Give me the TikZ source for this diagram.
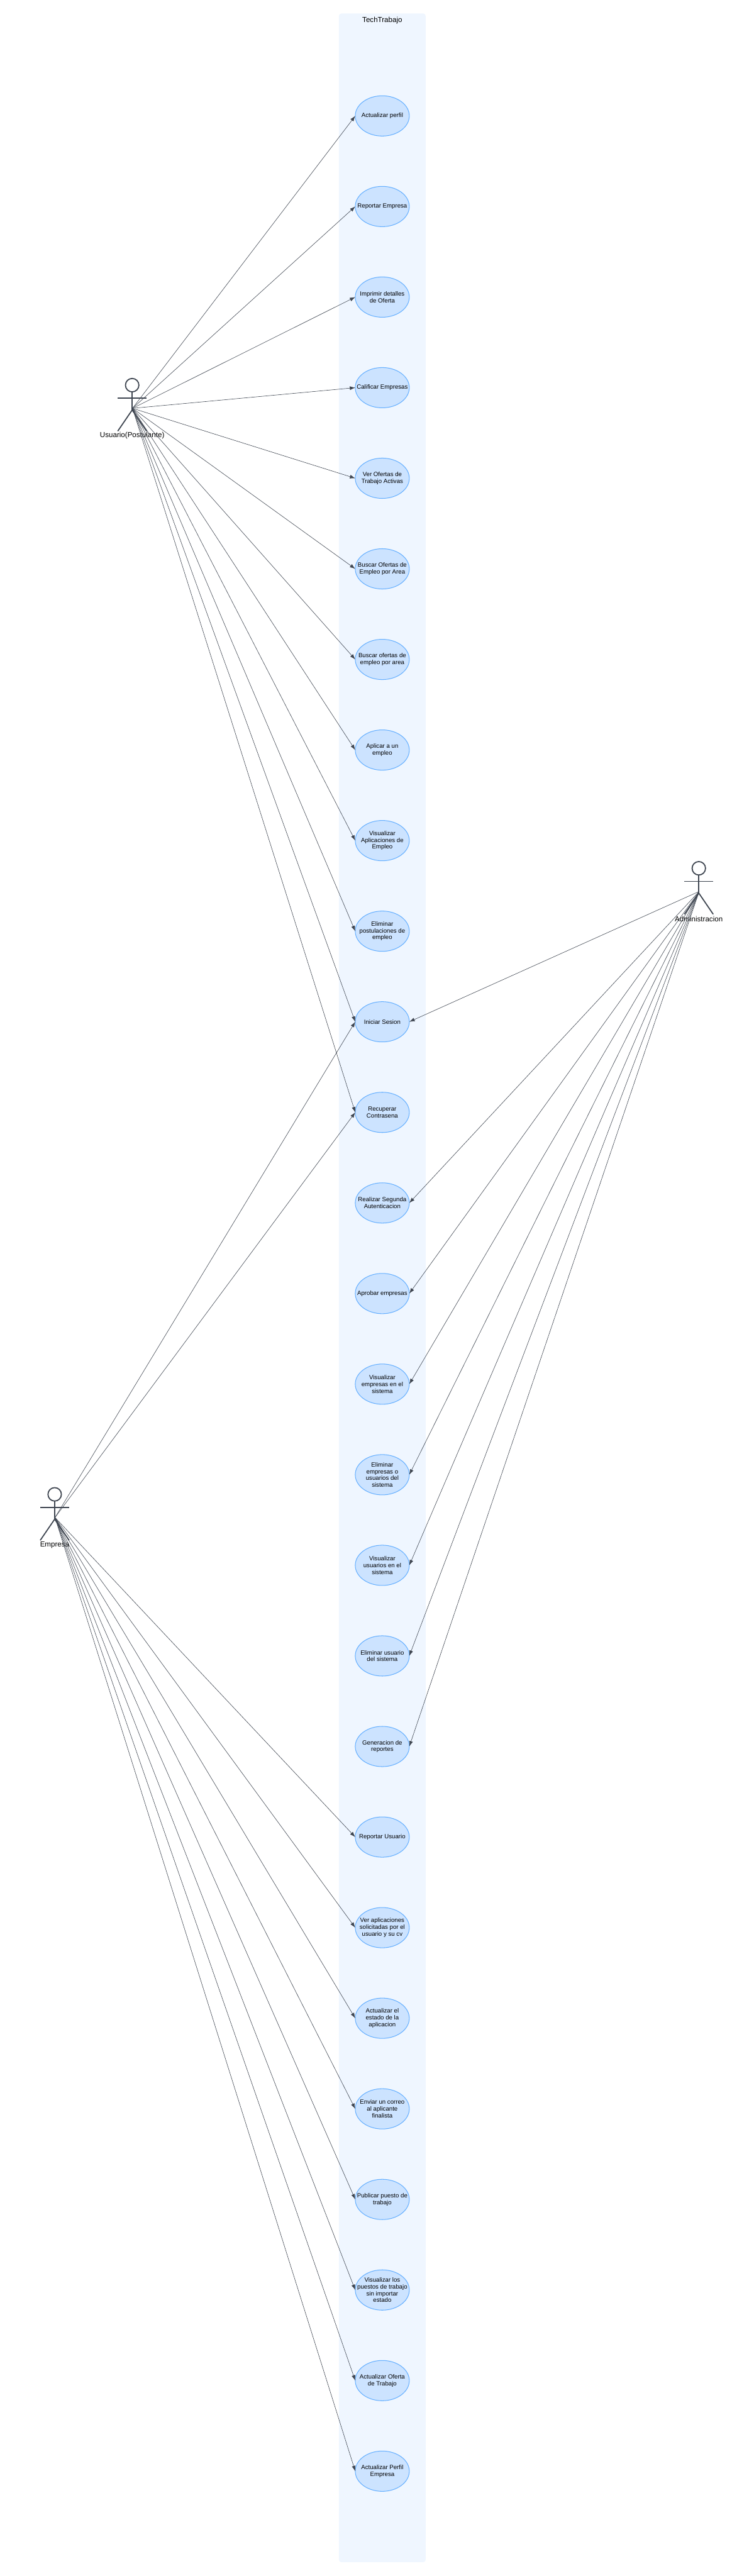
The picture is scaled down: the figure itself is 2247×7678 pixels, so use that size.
\documentclass[tikz,border=0pt]{standalone}
\usepackage{fontspec}
\setmainfont{Liberation Sans}
\usetikzlibrary{shapes.geometric,arrows.meta}
\definecolor{panelblue}{RGB}{239, 246, 255}
\definecolor{usefill}{RGB}{204, 227, 255}
\definecolor{usedraw}{RGB}{102, 176, 255}
\definecolor{slategray}{RGB}{63, 70, 81}
\tikzset{
    usecase/.style={ellipse, draw=usedraw, fill=usefill, line width=0.55pt, minimum width=1.61cm, minimum height=1.2cm, inner sep=-0.3cm, outer sep=0pt, align=center, text=black, font=\fontsize{5.15}{5.7}\selectfont},
    actorline/.style={draw=slategray, line width=0.95pt},
    actorlabel/.style={text=black, inner sep=0pt, font=\fontsize{6.18}{7}\selectfont},
    edge/.style={draw=slategray, line width=0.32pt, -{Latex[length=4.6pt, width=3.2pt]}}
}
% one stick figure: name, x, y of the head, label
\newcommand{\actorfig}[4]{
    \draw[actorline] (#2,#3) circle[radius=20];
    \draw[actorline] (#2,#3+20) -- (#2,#3+74);
    \draw[actorline] (#2-43,#3+39) -- (#2+43,#3+39);
    \draw[actorline] (#2-43,#3+137) -- (#2,#3+74) -- (#2+43,#3+137);
    \coordinate (#1) at (#2+1,#3+69);
    \node[actorlabel] (#1label) at (#2,#3+151) {#4};
}

\begin{document}
\begin{tikzpicture}[x=0.01cm, y=-0.01cm]
    \useasboundingbox (0,0) rectangle (2247,7678);
    \fill[panelblue, rounded corners=2.3pt] (1010,40) rectangle (1269,7637);
    \node[actorlabel] (system) at (1139.5,60) {TechTrabajo};

    \node[usecase] (perfil) at (1139.5,345.5) {Actualizar perfil};
    \node[usecase] (repempresa) at (1139.5,615.5) {Reportar Empresa};
    \node[usecase] (imprimir) at (1139.5,885.5) {Imprimir detalles\\de Oferta};
    \node[usecase] (calificar) at (1139.5,1155.5) {Calificar Empresas};
    \node[usecase] (ofertas) at (1139.5,1425.5) {Ver Ofertas de\\Trabajo Activas};
    \node[usecase] (buscarA) at (1139.5,1695.5) {Buscar Ofertas de\\Empleo por Area};
    \node[usecase] (buscarB) at (1139.5,1965.5) {Buscar ofertas de\\empleo por area};
    \node[usecase] (aplicar) at (1139.5,2235.5) {Aplicar a un\\empleo};
    \node[usecase] (aplicaciones) at (1139.5,2505.5) {Visualizar\\Aplicaciones de\\Empleo};
    \node[usecase] (postulaciones) at (1139.5,2775.5) {Eliminar\\postulaciones de\\empleo};
    \node[usecase] (sesion) at (1139.5,3045.5) {Iniciar Sesion};
    \node[usecase] (recuperar) at (1139.5,3315.5) {Recuperar\\Contrasena};
    \node[usecase] (segunda) at (1139.5,3585.5) {Realizar Segunda\\Autenticacion};
    \node[usecase] (aprobar) at (1139.5,3855.5) {Aprobar empresas};
    \node[usecase] (verempresas) at (1139.5,4125.5) {Visualizar\\empresas en el\\sistema};
    \node[usecase] (delempresas) at (1139.5,4395.5) {Eliminar\\empresas o\\usuarios del\\sistema};
    \node[usecase] (verusuarios) at (1139.5,4665.5) {Visualizar\\usuarios en el\\sistema};
    \node[usecase] (delusuario) at (1139.5,4935.5) {Eliminar usuario\\del sistema};
    \node[usecase] (reportes) at (1139.5,5205.5) {Generacion de\\reportes};
    \node[usecase] (repusuario) at (1139.5,5475.5) {Reportar Usuario};
    \node[usecase] (solicitadas) at (1139.5,5745.5) {Ver aplicaciones\\solicitadas por el\\usuario y su cv};
    \node[usecase] (estado) at (1139.5,6015.5) {Actualizar el\\estado de la\\aplicacion};
    \node[usecase] (correo) at (1139.5,6285.5) {Enviar un correo\\al aplicante\\finalista};
    \node[usecase] (publicar) at (1139.5,6555.5) {Publicar puesto de\\trabajo};
    \node[usecase] (puestos) at (1139.5,6825.5) {Visualizar los\\puestos de trabajo\\sin importar\\estado};
    \node[usecase] (actoferta) at (1139.5,7095.5) {Actualizar Oferta\\de Trabajo};
    \node[usecase] (actempresa) at (1139.5,7365.5) {Actualizar Perfil\\Empresa};

    \actorfig{usuario}{394}{1148}{Usuario(Postulante)}
    \actorfig{admin}{2083}{2588}{Administracion}
    \actorfig{empresa}{163}{4454}{Empresa}

    \draw[edge] (usuario) -- (perfil.west);
    \draw[edge] (usuario) -- (repempresa.west);
    \draw[edge] (usuario) -- (imprimir.west);
    \draw[edge] (usuario) -- (calificar.west);
    \draw[edge] (usuario) -- (ofertas.west);
    \draw[edge] (usuario) -- (buscarA.west);
    \draw[edge] (usuario) -- (buscarB.west);
    \draw[edge] (usuario) -- (aplicar.west);
    \draw[edge] (usuario) -- (aplicaciones.west);
    \draw[edge] (usuario) -- (postulaciones.west);
    \draw[edge] (usuario) -- (sesion.west);
    \draw[edge] (usuario) -- (recuperar.west);

    \draw[edge] (admin) -- (sesion.east);
    \draw[edge] (admin) -- (segunda.east);
    \draw[edge] (admin) -- (aprobar.east);
    \draw[edge] (admin) -- (verempresas.east);
    \draw[edge] (admin) -- (delempresas.east);
    \draw[edge] (admin) -- (verusuarios.east);
    \draw[edge] (admin) -- (delusuario.east);
    \draw[edge] (admin) -- (reportes.east);

    \draw[edge] (empresa) -- (sesion.west);
    \draw[edge] (empresa) -- (recuperar.west);
    \draw[edge] (empresa) -- (repusuario.west);
    \draw[edge] (empresa) -- (solicitadas.west);
    \draw[edge] (empresa) -- (estado.west);
    \draw[edge] (empresa) -- (correo.west);
    \draw[edge] (empresa) -- (publicar.west);
    \draw[edge] (empresa) -- (puestos.west);
    \draw[edge] (empresa) -- (actoferta.west);
    \draw[edge] (empresa) -- (actempresa.west);
\end{tikzpicture}
\end{document}
